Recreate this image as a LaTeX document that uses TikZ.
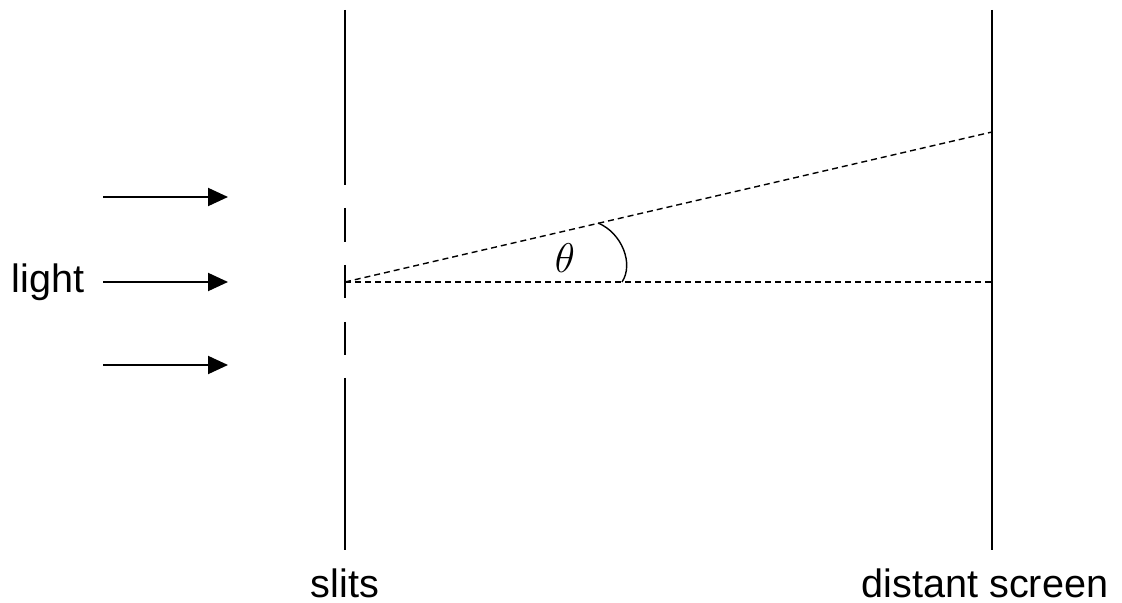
\documentclass[tikz,border=0pt]{standalone}
\usepackage{fontspec}
\setmainfont{Liberation Sans}
\usetikzlibrary{arrows.meta, positioning, calc}

\begin{document}
\begin{tikzpicture}[x=0.5pt, y=-0.5pt, every node/.style={font=\fontsize{19.8}{24}\selectfont, inner sep=0pt}]
    \useasboundingbox (0,0) rectangle (1122,603);

    % Slits (barrier with gaps)
    \foreach \ya/\yb in {10/185, 208/242, 265/298, 322/355, 378/550}
        \draw[line width=1pt] (345,\ya) -- (345,\yb);

    % Distant screen
    \draw[line width=1pt] (992,10) -- (992,550);

    % Points
    \coordinate (slit) at (345,282);
    \coordinate (centre) at (992,282);
    \coordinate (fringe) at (992,132);

    % Incoming light
    \foreach \y/\n in {197/top, 282/mid, 365/bot} {
        \coordinate (\n s) at (103,\y);
        \coordinate (\n e) at (228,\y);
        \draw[-{Triangle[length=10pt, width=9pt]}, line width=1pt] (\n s) -- (\n e);
    }
    \node[anchor=east] (light) at ($(mids)+(-18,0)$) {light};

    % Rays
    \draw[dash pattern=on 3pt off 2pt, line width=0.7pt] (slit) -- (centre);
    \draw[dash pattern=on 3pt off 2pt, line width=0.7pt] (slit) -- (fringe);

    % Angle
    \draw[line width=0.7pt] (598,223) .. controls (622,233) and (634,264) .. (622,282);
    \node (theta) at (565,258) {$\theta$};

    % Labels
    \node (slits) at (345,583) {slits};
    \node (screen) at (985,583) {distant screen};
\end{tikzpicture}
\end{document}
